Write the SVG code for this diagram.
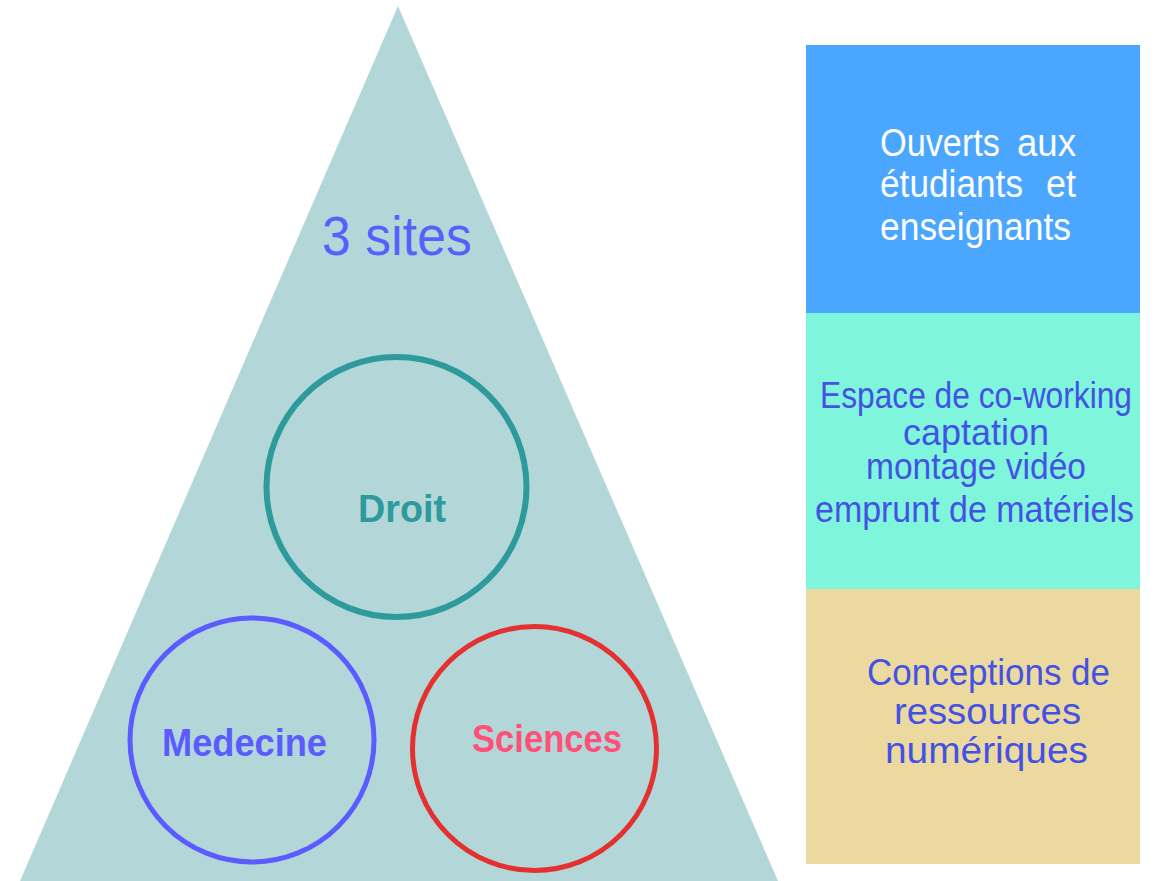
<svg xmlns="http://www.w3.org/2000/svg" width="1157" height="881" viewBox="0 0 1157 881">
<style>
text{font-family:"Liberation Sans",Arial,sans-serif}
.lbl{font-weight:bold;font-size:38px}
.box{font-size:36px;fill:#4352E4}
.wht{font-size:38px;fill:#ffffff}
</style>
<rect width="1157" height="881" fill="#ffffff"/>
<g id="pyramid">
<polygon points="398,6 778,881 20,881" fill="#B3D7D9"/>
<text x="322" y="255" font-size="56" fill="#5560FF" textLength="150" lengthAdjust="spacingAndGlyphs">3 sites</text>
</g>
<g id="droit">
<circle cx="396.5" cy="487" r="130" fill="none" stroke="#2E9A9C" stroke-width="6"/>
<text class="lbl" x="358" y="522" fill="#2E9A9C" textLength="88" lengthAdjust="spacingAndGlyphs">Droit</text>
</g>
<g id="medecine">
<circle cx="252" cy="740" r="122" fill="none" stroke="#5B5BFF" stroke-width="5"/>
<text class="lbl" x="162" y="756" fill="#5B5BFF" textLength="165" lengthAdjust="spacingAndGlyphs">Medecine</text>
</g>
<g id="sciences">
<circle cx="534.5" cy="748.5" r="122" fill="none" stroke="#E53030" stroke-width="5"/>
<text class="lbl" x="472" y="752" fill="#FF5078" textLength="150" lengthAdjust="spacingAndGlyphs">Sciences</text>
</g>
<g id="acces">
<rect x="806" y="45" width="334" height="268" fill="#4BA6FF"/>
<text class="wht" x="880" y="156" textLength="120" lengthAdjust="spacingAndGlyphs">Ouverts</text>
<text class="wht" x="1017" y="156" textLength="59" lengthAdjust="spacingAndGlyphs">aux</text>
<text class="wht" x="880" y="197" textLength="143" lengthAdjust="spacingAndGlyphs">étudiants</text>
<text class="wht" x="1046" y="197" textLength="30" lengthAdjust="spacingAndGlyphs">et</text>
<text class="wht" x="880" y="240" textLength="191" lengthAdjust="spacingAndGlyphs">enseignants</text>
</g>
<g id="services">
<rect x="806" y="313" width="334" height="276" fill="#7FF5DC"/>
<text class="box" x="820" y="408" textLength="312" lengthAdjust="spacingAndGlyphs">Espace de co-working</text>
<text class="box" x="903" y="445" textLength="146" lengthAdjust="spacingAndGlyphs">captation</text>
<text class="box" x="866" y="479" textLength="220" lengthAdjust="spacingAndGlyphs">montage vidéo</text>
<text class="box" x="815" y="522" textLength="319" lengthAdjust="spacingAndGlyphs">emprunt de matériels</text>
</g>
<g id="ressources">
<rect x="806" y="589" width="334" height="275" fill="#ECD9A0"/>
<text class="box" x="867" y="685" textLength="243" lengthAdjust="spacingAndGlyphs">Conceptions de</text>
<text class="box" x="894" y="724" textLength="187" lengthAdjust="spacingAndGlyphs">ressources</text>
<text class="box" x="885" y="763" textLength="203" lengthAdjust="spacingAndGlyphs">numériques</text>
</g>
<g id="connectors"></g>
</svg>
